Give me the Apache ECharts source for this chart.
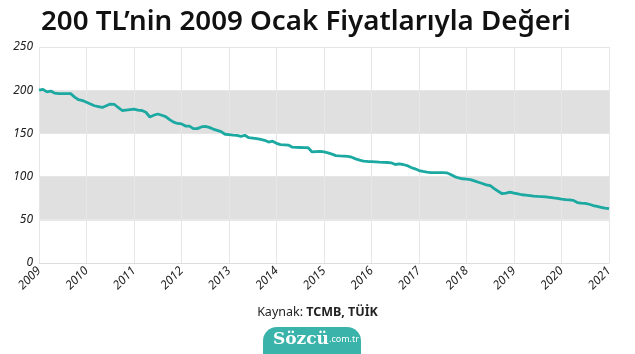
<!DOCTYPE html>
<html><head><meta charset="utf-8">
<script src="https://cdn.jsdelivr.net/npm/echarts@6/dist/echarts.min.js"></script>
<style>html,body{margin:0;padding:0;background:#fff}#c{width:635px;height:354px}</style>
</head><body><div id="c"></div>
<script>
const title = "200 TL\u2019nin 2009 Ocak Fiyatlarıyla Değeri";
const years = ["2009","2010","2011","2012","2013","2014","2015","2016","2017","2018","2019","2020","2021"];
const values = [
 200,201,198,199,196.5,196,196,196,196,192,189,188,
 186,184,182,181,180,182,184,183.7,180,176.5,177,177.5,
 178,177,176.5,174.5,169,171,172.5,171,169.5,166,163,161.5,
 161,158.5,158.5,155.5,155.5,157.5,158.2,157,155,153.5,152,149,
 148.5,148,147.8,146.6,147.8,145,144.5,144,143,142,140,141,
 138.5,137,136.8,136.5,134,133.8,133.7,133.6,133.4,128.5,129,129.3,
 128.5,127.5,126,124.3,124,123.8,123.5,122.5,120.5,119,118,117.5,
 117.3,117,116.7,116.5,116.3,116,114,114.6,114,112.8,110.5,109,
 107,106,105.2,104.6,104.5,104.5,104.5,104.4,102.5,100,98.4,97.5,
 97,96.5,95,93.5,92,90.5,89.5,86,83,80.2,81,82,
 81,80,79,78.5,78,77.4,77,76.8,76.5,76,75.3,74.8,
 74,73.3,73,72.5,70,69.3,69.1,68,66.5,65.5,64.5,63.5,
 62.8
];
const months = values.map((v,i)=> years[Math.floor(i/12)] + "-" + String(i%12+1).padStart(2,"0"));
const sourceLabel = "Kaynak: ";
const sourceBold = "TCMB, TÜİK";

const chart = echarts.init(document.getElementById('c'), null, {renderer:'canvas'});
chart.setOption({
  animation:false,
  title:{text:title,left:36,top:3,textStyle:{fontFamily:'Noto Sans',fontWeight:600,fontSize:27.7,color:'#111'}},
  grid:{left:39,right:26,top:47,bottom:91},
  xAxis:{type:'category',data:months,boundaryGap:false,
    axisLine:{lineStyle:{color:'#dddddd'}},axisTick:{show:false},
    axisLabel:{interval:(i)=>i%12===0,rotate:45,fontStyle:'italic',fontFamily:'Noto Sans',fontSize:12,color:'#222',margin:6,
      formatter:(v)=>v.slice(0,4)},
    splitLine:{show:true,interval:(i)=>i%12===0,lineStyle:{color:'#e6e6e6',width:1}}},
  yAxis:{type:'value',min:0,max:250,interval:50,
    axisLine:{show:false},axisTick:{show:false},
    axisLabel:{fontStyle:'italic',fontFamily:'Noto Sans',fontSize:12,color:'#222',margin:6},
    splitLine:{show:true,lineStyle:{color:'#e6e6e6'}},
    splitArea:{show:true,areaStyle:{color:['#ffffff','#e0e0e0']}}},
  series:[{type:'line',data:values,showSymbol:false,lineStyle:{color:'#1ba9a1',width:2.8},z:5}],
  graphic:[
    {type:'text',left:'center',top:306,style:{rich:{a:{fontFamily:'Noto Sans',fontSize:12.5,fill:'#222'},b:{fontFamily:'Noto Sans',fontSize:12.5,fontWeight:'bold',fill:'#222'}},text:'{a|'+sourceLabel+'}{b|'+sourceBold+'}'}},
    {type:'rect',shape:{x:263,y:327,width:98,height:30,r:[14,14,0,0]},style:{fill:'#3ab3ab'}},
    {type:'text',x:273,y:331,style:{rich:{s:{fontFamily:'DejaVu Serif',fontWeight:'bold',fontSize:17,fill:'#fff'},d:{fontFamily:'Noto Sans',fontSize:9,fill:'#fff'}},text:'{s|Sözcü}{d|.com.tr}'}}
  ]
});
</script></body></html>
